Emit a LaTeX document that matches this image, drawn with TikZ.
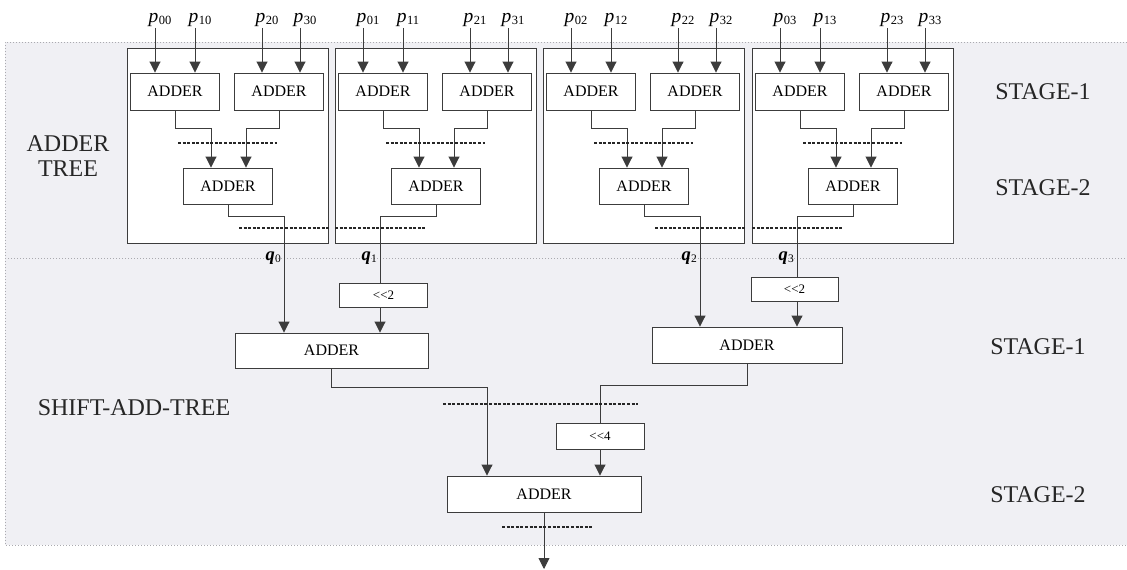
\documentclass[tikz,border=0pt]{standalone}
\usepackage{fontspec}
\setmainfont{Liberation Serif}
\usetikzlibrary{arrows.meta, calc}
\definecolor{bggray}{RGB}{240, 240, 244}
\definecolor{dotgray}{RGB}{170, 170, 175}
\definecolor{linegray}{RGB}{60, 60, 60}
\newcommand{\plab}[1]{\textit{p}\kern0.5pt\raisebox{-2pt}{\fontsize{12.5}{12.5}\selectfont #1}}
\newcommand{\qlab}[1]{\textit{\textbf{q}}\kern0.3pt\raisebox{-2pt}{\fontsize{11.5}{11.5}\selectfont #1}}
\tikzset{
    wire/.style={draw=linegray, line width=0.9pt},
    arr/.style={wire, -{Triangle[length=11pt, width=11pt]}},
    bus/.style={draw=black!85, line width=1.8pt, dash pattern=on 3pt off 1.6pt},
    adder/.style={draw=linegray, line width=0.9pt, fill=white, inner sep=0pt,
        minimum width=89pt, minimum height=37pt, font=\fontsize{16}{16}\selectfont},
    bigadder/.style={adder, minimum width=193pt, minimum height=36pt},
    shiftbox/.style={adder, minimum width=88pt, minimum height=24pt, font=\fontsize{13}{13}\selectfont},
    treebox/.style={draw=linegray, line width=1pt, fill=white, inner sep=0pt,
        minimum width=201pt, minimum height=195pt},
    stagelbl/.style={font=\fontsize{24}{27}\selectfont, text=black!85},
    inlbl/.style={font=\fontsize{19.5}{19.5}\selectfont, inner sep=1pt},
    outlbl/.style={font=\fontsize{18.5}{18.5}\selectfont, inner sep=1pt, anchor=east}
}

\begin{document}
\begin{tikzpicture}[x=1pt, y=-1pt]
    \useasboundingbox (0, 0) rectangle (1127, 570);

    % ----------------------------------------------------
    % Background bands
    % ----------------------------------------------------
    \fill[bggray] (5, 42) rectangle (1127, 545);
    \draw[dotgray, dotted, line width=1pt] (1127, 42) -- (5, 42) -- (5, 545) -- (1127, 545);
    \draw[dotgray, dotted, line width=1pt] (5, 258) -- (1127, 258);

    % ----------------------------------------------------
    % TOP: four adder trees
    % ----------------------------------------------------
    \foreach \i/\x/\s in {0/127/1, 1/335/-1, 2/543/1, 3/752/-1} {
        \node[treebox] (t\i) at (\x+100.5, 145.5) {};

        % stage-1 and stage-2 adders
        \node[adder] (a\i) at (\x+48, 91.5) {ADDER};
        \node[adder] (b\i) at (\x+152, 91.5) {ADDER};
        \node[adder, minimum height=36pt] (c\i) at (\x+101, 186) {ADDER};

        % inputs
        \node[inlbl] (pa\i) at (\x+33, 20) {\plab{0\i}};
        \node[inlbl] (pb\i) at (\x+73, 20) {\plab{1\i}};
        \node[inlbl] (pc\i) at (\x+140, 20) {\plab{2\i}};
        \node[inlbl] (pd\i) at (\x+178, 20) {\plab{3\i}};
        \draw[arr] ([xshift=-5pt]pa\i.south) -- ([xshift=-20pt]a\i.north);
        \draw[arr] ([xshift=-5pt]pb\i.south) -- ([xshift=20pt]a\i.north);
        \draw[arr] ([xshift=-5pt]pc\i.south) -- ([xshift=-17pt]b\i.north);
        \draw[arr] ([xshift=-5pt]pd\i.south) -- ([xshift=21pt]b\i.north);

        % stage-1 -> stage-2
        \draw[arr] (a\i.south) -- ++(0, 18) -| ([xshift=-17pt]c\i.north);
        \draw[arr] (b\i.south) -- ++(0, 18) -| ([xshift=18pt]c\i.north);
        \draw[bus] (\x+51, 143) -- (\x+150, 143);

        % tree output
        \coordinate (q\i) at (\x+101+56*\s, 258);
        \draw[wire] (c\i.south) -- ++(0, 12) -| (q\i);
        \draw[bus] ($(q\i)+(-45, -30)$) -- ($(q\i)+(45, -30)$);
        \node[outlbl] (ql\i) at ($(q\i)+(-2, 0)$) {\qlab{\i}};
    }

    % ----------------------------------------------------
    % BOTTOM: shift-add tree
    % ----------------------------------------------------
    \node[shiftbox] (sh1) at (383.5, 295) {<{}<2};
    \node[shiftbox, minimum width=87pt] (sh3) at (794.5, 289) {<{}<2};
    \node[shiftbox, minimum height=26pt] (sh4) at (600, 436) {<{}<4};

    \node[bigadder, minimum height=35pt] (sl) at (331.5, 350.5) {ADDER};
    \node[bigadder, minimum width=190pt] (sr) at (747, 345) {ADDER};
    \node[bigadder, minimum width=194pt] (sb) at (544, 494) {ADDER};

    \draw[arr] (q0) -- (q0 |- sl.north);
    \draw[wire] (q1) -- (q1 |- sh1.north);
    \draw[arr] (q1 |- sh1.south) -- (q1 |- sl.north);
    \draw[arr] (q2) -- (q2 |- sr.north);
    \draw[wire] (q3) -- (q3 |- sh3.north);
    \draw[arr] (q3 |- sh3.south) -- (q3 |- sr.north);

    \draw[arr] (sl.south) -- ++(0, 19) -| ([xshift=-57pt]sb.north);
    \draw[wire] (sr.south) -- ++(0, 22) -| (sh4.north);
    \draw[arr] (sh4.south) -- (sh4.south |- sb.north);
    \draw[bus] (443, 404) -- (638, 404);

    \coordinate (out) at (544, 569);
    \draw[arr] (sb.south) -- (out);
    \draw[bus] (502, 527) -- (593, 527);

    % ----------------------------------------------------
    % Labels
    % ----------------------------------------------------
    \node[stagelbl, align=center] (ltree) at (68, 156) {ADDER\\[-2pt]TREE};
    \node[stagelbl] (lshift) at (134, 408) {SHIFT-ADD-TREE};
    \node[stagelbl] (st1) at (1043, 92) {STAGE-1};
    \node[stagelbl] (st2) at (1043, 188) {STAGE-2};
    \node[stagelbl] (st3) at (1038, 347) {STAGE-1};
    \node[stagelbl] (st4) at (1038, 495) {STAGE-2};
\end{tikzpicture}
\end{document}
